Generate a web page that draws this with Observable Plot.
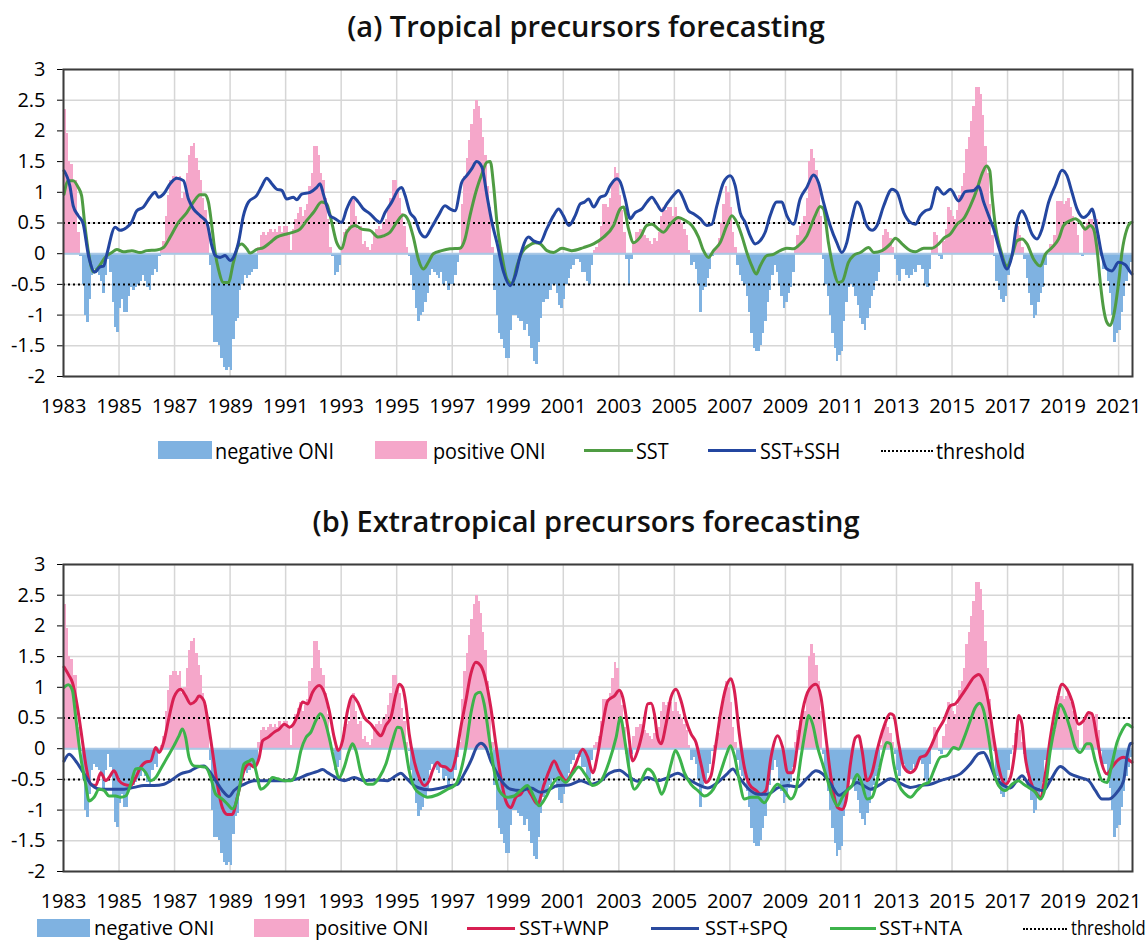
<!DOCTYPE html>
<html><head><meta charset="utf-8">
<script src="https://cdn.jsdelivr.net/npm/d3@7"></script>
<script src="https://cdn.jsdelivr.net/npm/@observablehq/plot@0.6"></script>
<style>
body{margin:0;background:#fff;font-family:"Open Sans",sans-serif;color:#000;}
#root{position:relative;width:1148px;height:942px;overflow:hidden;background:#fff;}
.title{position:absolute;left:0;width:1172px;text-align:center;font-weight:600;font-size:29px;line-height:34px;color:#111;}
.panel{position:absolute;left:0;}
.legend{position:absolute;left:0;width:1148px;height:22px;}
.lg{position:absolute;}
.lt{position:absolute;top:0;line-height:22px;white-space:nowrap;transform-origin:0 50%;}
</style></head>
<body><div id="root"></div>
<script>
// Monthly ONI, Jan 1983 - Jun 2021
const oniStart = 1983;
const oni = [
 2.35,1.95,1.5,1.45,1.2,1.2,0.35,-0.05,-0.5,-1.0,-1.12,-0.75,
 -0.35,-0.25,-0.3,-0.35,-0.45,-0.65,-0.35,-0.1,-0.3,-0.8,-1.2,-1.28,
 -0.9,-0.75,-0.95,-0.95,-0.7,-0.55,-0.6,-0.55,-0.5,-0.45,-0.35,-0.45,
 -0.55,-0.6,-0.35,-0.25,-0.3,-0.05,0.05,0.2,0.6,0.95,1.2,1.25,
 1.25,1.2,1.25,0.9,1.0,1.3,1.6,1.75,1.8,1.55,1.35,1.2,
 0.9,0.7,0.4,-0.2,-1.0,-1.45,-1.45,-1.5,-1.7,-1.85,-1.9,-1.85,
 -1.9,-1.4,-1.1,-1.05,-0.6,-0.5,-0.35,-0.4,-0.35,-0.3,-0.25,-0.25,
 0.1,0.3,0.35,0.3,0.35,0.4,0.35,0.4,0.35,0.45,0.35,0.45,
 0.45,0.35,0.05,0.4,0.55,0.65,0.75,0.6,0.7,0.8,1.1,1.3,
 1.75,1.75,1.6,1.3,1.2,0.9,0.55,0.1,-0.05,-0.35,-0.3,-0.2,
 0.05,0.35,0.4,0.45,0.85,0.9,0.6,0.4,0.45,0.15,0.2,0.1,
 0.05,0.15,0.3,0.4,0.45,0.4,0.5,0.55,0.7,0.9,1.2,1.2,
 1.05,0.9,0.65,0.45,0.1,-0.05,-0.35,-0.6,-0.9,-1.1,-1.0,-0.95,
 -0.8,-0.65,-0.35,-0.25,-0.3,-0.35,-0.4,-0.3,-0.5,-0.45,-0.6,-0.5,
 -0.5,-0.35,-0.15,0.1,0.8,1.25,1.55,1.85,2.1,2.35,2.5,2.4,
 2.2,1.9,1.6,1.1,0.75,0.1,-0.6,-1.0,-1.3,-1.4,-1.55,-1.7,
 -1.7,-1.25,-1.0,-1.0,-1.05,-1.1,-1.1,-1.25,-1.15,-1.35,-1.55,-1.75,
 -1.8,-1.45,-1.05,-0.8,-0.75,-0.75,-0.6,-0.5,-0.5,-0.65,-0.85,-0.9,
 -0.75,-0.5,-0.4,-0.25,-0.2,-0.1,-0.1,-0.15,-0.3,-0.3,-0.45,-0.5,
 -0.2,0.05,0.1,0.2,0.45,0.8,0.8,0.75,0.9,1.15,1.4,1.3,
 0.95,0.7,0.35,-0.1,-0.5,-0.1,0.2,0.35,0.35,0.4,0.35,0.3,
 0.25,0.2,0.15,0.25,0.2,0.35,0.6,0.75,0.7,0.75,0.75,0.6,
 0.75,0.6,0.55,0.5,0.4,0.3,0.05,-0.2,-0.15,-0.25,-0.5,-0.95,
 -0.6,-0.55,-0.4,-0.25,-0.05,0.05,0.1,0.25,0.5,0.8,1.1,1.0,
 0.75,0.35,0.1,-0.2,-0.35,-0.45,-0.5,-0.7,-0.95,-1.3,-1.55,-1.6,
 -1.6,-1.5,-1.3,-1.1,-0.8,-0.6,-0.35,-0.2,-0.3,-0.5,-0.7,-0.9,
 -0.8,-0.65,-0.55,-0.3,0.1,0.3,0.45,0.5,0.6,0.9,1.5,1.7,
 1.55,1.35,1.1,0.6,-0.1,-0.5,-0.7,-1.0,-1.3,-1.55,-1.75,-1.65,
 -1.6,-1.1,-0.8,-0.55,-0.5,-0.55,-0.7,-0.85,-1.05,-1.15,-1.25,-1.05,
 -0.9,-0.7,-0.6,-0.45,-0.3,0.05,0.3,0.4,0.35,0.25,0.1,-0.1,
 -0.35,-0.45,-0.25,-0.25,-0.35,-0.4,-0.35,-0.25,-0.3,-0.2,-0.2,-0.25,
 -0.5,-0.55,-0.25,0.1,0.35,0.3,-0.05,-0.1,0.2,0.4,0.75,0.7,
 0.6,0.55,0.7,0.95,1.1,1.3,1.7,1.9,2.15,2.4,2.7,2.7,
 2.6,2.25,1.75,1.3,0.8,0.3,-0.05,-0.45,-0.6,-0.75,-0.8,-0.7,
 -0.35,-0.1,0.05,0.25,0.45,0.3,0.1,-0.1,-0.4,-0.65,-0.85,-1.05,
 -1.0,-0.8,-0.65,-0.55,-0.2,0.0,0.15,0.15,0.3,0.85,0.85,0.85,
 0.8,0.85,0.9,0.75,0.6,0.5,0.3,0.0,-0.05,0.45,0.5,0.55,
 0.55,0.5,0.55,0.3,-0.05,-0.25,-0.25,-0.45,-0.65,-1.0,-1.45,-1.3,
 -1.25,-0.95,-0.7,-0.45,-0.3,-0.15
];

// Panel (a) forecasts: [year, value]
const sstA = [[1983.02,0.97],[1983.17,1.19],[1983.35,1.19],[1983.53,1.08],[1983.65,0.95],[1983.77,0.46],[1983.9,0.02],[1984.08,-0.3],[1984.26,-0.22],[1984.5,-0.06],[1984.74,0.02],[1984.92,0.07],[1985.16,0.03],[1985.46,0.05],[1985.76,0.02],[1986.0,0.05],[1986.36,0.06],[1986.6,0.1],[1986.84,0.27],[1987.14,0.51],[1987.44,0.67],[1987.68,0.84],[1987.92,0.96],[1988.1,0.96],[1988.22,0.84],[1988.34,0.46],[1988.46,0.02],[1988.58,-0.25],[1988.76,-0.47],[1988.94,-0.47],[1989.12,-0.14],[1989.3,0.13],[1989.42,0.16],[1989.6,0.08],[1989.72,0.01],[1989.96,0.07],[1990.2,0.1],[1990.44,0.18],[1990.68,0.27],[1991.04,0.32],[1991.28,0.35],[1991.52,0.4],[1991.76,0.54],[1992.0,0.67],[1992.3,0.84],[1992.48,0.81],[1992.66,0.51],[1992.84,0.18],[1993.02,0.08],[1993.2,0.35],[1993.5,0.46],[1993.74,0.4],[1994.04,0.38],[1994.34,0.27],[1994.52,0.29],[1994.76,0.35],[1995.0,0.51],[1995.24,0.63],[1995.42,0.54],[1995.6,0.27],[1995.78,-0.09],[1995.96,-0.25],[1996.14,-0.14],[1996.32,0.0],[1996.62,0.05],[1996.92,0.08],[1997.28,0.09],[1997.46,0.24],[1997.64,0.62],[1997.88,1.05],[1998.07,1.3],[1998.25,1.49],[1998.37,1.5],[1998.49,1.11],[1998.61,0.51],[1998.79,-0.03],[1998.97,-0.41],[1999.15,-0.49],[1999.33,-0.2],[1999.51,0.02],[1999.75,0.13],[1999.99,0.18],[2000.17,0.16],[2000.41,0.05],[2000.65,0.02],[2000.95,0.09],[2001.3,0.05],[2001.73,0.1],[2002.09,0.16],[2002.45,0.27],[2002.81,0.46],[2003.05,0.73],[2003.17,0.76],[2003.35,0.4],[2003.53,0.18],[2003.77,0.27],[2004.01,0.46],[2004.19,0.48],[2004.43,0.4],[2004.61,0.35],[2004.85,0.48],[2005.15,0.59],[2005.39,0.54],[2005.63,0.46],[2005.87,0.27],[2006.05,0.05],[2006.23,-0.06],[2006.41,0.05],[2006.65,0.18],[2006.89,0.46],[2007.07,0.62],[2007.25,0.51],[2007.43,0.29],[2007.61,0.02],[2007.79,-0.2],[2007.95,-0.33],[2008.09,-0.2],[2008.33,-0.03],[2008.57,-0.01],[2008.81,0.05],[2009.05,0.09],[2009.29,0.08],[2009.47,0.13],[2009.77,0.29],[2010.07,0.62],[2010.25,0.77],[2010.37,0.73],[2010.55,0.18],[2010.73,-0.25],[2010.91,-0.47],[2011.05,-0.45],[2011.27,-0.14],[2011.45,-0.03],[2011.7,0.02],[2012.0,0.1],[2012.18,0.02],[2012.48,0.05],[2012.78,0.16],[2012.96,0.25],[2013.2,0.16],[2013.5,0.05],[2013.68,0.03],[2013.98,0.09],[2014.28,0.09],[2014.52,0.16],[2014.7,0.25],[2014.94,0.32],[2015.18,0.48],[2015.42,0.57],[2015.66,0.78],[2015.9,1.05],[2016.08,1.3],[2016.24,1.43],[2016.36,1.35],[2016.44,0.95],[2016.56,0.46],[2016.74,0.08],[2016.98,-0.2],[2017.16,-0.03],[2017.34,0.21],[2017.52,0.24],[2017.7,0.16],[2017.94,-0.09],[2018.18,-0.2],[2018.36,-0.01],[2018.6,0.1],[2018.84,0.24],[2019.02,0.46],[2019.26,0.54],[2019.44,0.57],[2019.62,0.51],[2019.8,0.4],[2019.98,0.46],[2020.1,0.4],[2020.22,0.08],[2020.34,-0.47],[2020.46,-0.9],[2020.58,-1.12],[2020.7,-1.17],[2020.82,-1.01],[2021.0,-0.47],[2021.12,0.02],[2021.3,0.4],[2021.42,0.5],[2021.48,0.51]];

const sshA = [[1983.02,1.35],[1983.23,1.1],[1983.35,0.78],[1983.53,0.62],[1983.7,0.5],[1983.9,-0.03],[1984.13,-0.3],[1984.3,-0.22],[1984.45,-0.2],[1984.55,-0.03],[1984.86,0.43],[1985.04,0.38],[1985.28,0.43],[1985.45,0.51],[1985.64,0.7],[1985.88,0.76],[1986.12,0.92],[1986.3,1.0],[1986.42,0.92],[1986.6,0.97],[1986.84,1.14],[1987.08,1.23],[1987.32,1.19],[1987.5,0.89],[1987.68,0.73],[1987.92,0.62],[1988.16,0.51],[1988.34,0.13],[1988.46,-0.03],[1988.64,-0.06],[1988.82,-0.03],[1989.0,-0.11],[1989.12,-0.06],[1989.3,0.18],[1989.48,0.62],[1989.66,0.84],[1989.96,0.95],[1990.14,1.1],[1990.32,1.23],[1990.5,1.14],[1990.68,1.05],[1990.86,1.03],[1991.04,0.89],[1991.28,0.92],[1991.4,0.88],[1991.58,0.97],[1991.88,1.0],[1992.12,1.08],[1992.24,1.14],[1992.36,0.97],[1992.48,0.78],[1992.6,0.62],[1992.78,0.57],[1993.02,0.51],[1993.2,0.73],[1993.44,0.92],[1993.62,0.84],[1993.8,0.73],[1994.04,0.65],[1994.28,0.54],[1994.4,0.51],[1994.58,0.67],[1994.82,0.84],[1995.07,1.05],[1995.18,1.08],[1995.3,0.95],[1995.48,0.67],[1995.66,0.57],[1995.84,0.35],[1996.02,0.27],[1996.26,0.43],[1996.5,0.62],[1996.74,0.78],[1996.92,0.73],[1997.1,0.7],[1997.34,1.16],[1997.52,1.27],[1997.7,1.38],[1997.88,1.5],[1998.07,1.41],[1998.25,0.95],[1998.43,0.51],[1998.61,0.18],[1998.85,-0.3],[1999.09,-0.52],[1999.27,-0.36],[1999.45,-0.03],[1999.75,0.27],[1999.93,0.21],[2000.16,0.18],[2000.4,0.4],[2000.65,0.62],[2000.83,0.73],[2001.0,0.62],[2001.2,0.46],[2001.43,0.62],[2001.61,0.81],[2001.76,0.84],[2001.91,0.89],[2002.09,0.76],[2002.33,0.92],[2002.51,0.95],[2002.69,1.11],[2002.93,1.22],[2003.05,1.17],[2003.23,0.89],[2003.41,0.57],[2003.59,0.67],[2003.83,0.73],[2004.01,0.84],[2004.19,0.92],[2004.37,0.81],[2004.55,0.7],[2004.73,0.81],[2004.97,0.95],[2005.15,1.03],[2005.33,0.89],[2005.51,0.7],[2005.69,0.65],[2005.93,0.57],[2006.17,0.46],[2006.35,0.48],[2006.53,0.78],[2006.77,1.16],[2007.01,1.27],[2007.19,1.11],[2007.37,0.67],[2007.55,0.51],[2007.73,0.29],[2007.91,0.16],[2008.09,0.21],[2008.27,0.35],[2008.45,0.62],[2008.69,0.84],[2008.87,0.84],[2009.05,0.62],[2009.29,0.48],[2009.53,0.89],[2009.77,1.08],[2010.01,1.28],[2010.19,1.16],[2010.37,0.84],[2010.61,0.46],[2010.85,0.18],[2011.03,0.02],[2011.21,0.18],[2011.39,0.57],[2011.58,0.84],[2011.7,0.78],[2011.88,0.51],[2012.12,0.38],[2012.3,0.46],[2012.54,0.78],[2012.84,1.05],[2013.02,1.0],[2013.26,0.67],[2013.5,0.51],[2013.68,0.48],[2013.86,0.62],[2014.04,0.7],[2014.22,0.73],[2014.46,1.08],[2014.7,0.97],[2014.94,1.05],[2015.24,0.86],[2015.48,1.01],[2015.78,1.03],[2015.96,1.1],[2016.14,0.84],[2016.32,0.62],[2016.5,0.4],[2016.74,0.02],[2016.98,-0.25],[2017.16,-0.03],[2017.34,0.51],[2017.52,0.7],[2017.64,0.62],[2017.88,0.32],[2018.06,0.24],[2018.24,0.4],[2018.48,0.84],[2018.72,1.11],[2018.96,1.36],[2019.14,1.27],[2019.32,1.0],[2019.5,0.73],[2019.74,0.59],[2019.92,0.65],[2020.04,0.73],[2020.22,0.4],[2020.4,-0.03],[2020.58,-0.25],[2020.76,-0.28],[2021.0,-0.14],[2021.24,-0.18],[2021.42,-0.3],[2021.48,-0.33]];

// Panel (b) forecasts
const wnpB = [[1983.02,1.33],[1983.2,1.19],[1983.32,1.08],[1983.44,0.84],[1983.56,0.51],[1983.68,0.13],[1983.8,-0.25],[1983.98,-0.58],[1984.16,-0.6],[1984.34,-0.39],[1984.52,-0.52],[1984.64,-0.47],[1984.82,-0.36],[1985.0,-0.52],[1985.18,-0.58],[1985.42,-0.6],[1985.6,-0.47],[1985.78,-0.3],[1985.96,-0.22],[1986.14,-0.2],[1986.32,0.02],[1986.44,-0.06],[1986.62,0.13],[1986.8,0.51],[1986.98,0.84],[1987.22,0.97],[1987.4,0.86],[1987.58,0.73],[1987.76,0.78],[1987.88,0.86],[1988.06,0.78],[1988.18,0.51],[1988.36,-0.03],[1988.54,-0.58],[1988.72,-0.96],[1988.9,-1.07],[1989.08,-1.07],[1989.26,-0.79],[1989.5,-0.36],[1989.69,-0.25],[1989.87,-0.3],[1990.05,-0.14],[1990.17,0.13],[1990.35,0.18],[1990.59,0.27],[1990.77,0.32],[1990.95,0.4],[1991.15,0.35],[1991.25,0.38],[1991.43,0.54],[1991.61,0.76],[1991.79,0.73],[1991.97,0.92],[1992.21,1.03],[1992.39,0.92],[1992.57,0.62],[1992.75,0.18],[1992.9,-0.03],[1993.05,0.13],[1993.23,0.62],[1993.41,0.86],[1993.59,0.76],[1993.83,0.51],[1994.07,0.4],[1994.25,0.29],[1994.43,0.21],[1994.61,0.38],[1994.79,0.51],[1994.97,0.89],[1995.09,1.05],[1995.21,1.0],[1995.33,0.73],[1995.45,0.24],[1995.63,-0.2],[1995.81,-0.47],[1995.99,-0.6],[1996.17,-0.52],[1996.29,-0.36],[1996.47,-0.22],[1996.59,-0.28],[1996.77,-0.3],[1996.95,-0.36],[1997.13,-0.14],[1997.31,0.35],[1997.49,0.78],[1997.67,1.22],[1997.85,1.41],[1998.03,1.35],[1998.21,1.11],[1998.39,0.67],[1998.57,0.08],[1998.75,-0.47],[1998.93,-0.85],[1999.11,-0.96],[1999.29,-0.79],[1999.47,-0.74],[1999.65,-0.63],[1999.83,-0.74],[2000.07,-0.9],[2000.31,-0.58],[2000.49,-0.36],[2000.67,-0.2],[2000.85,-0.36],[2001.1,-0.52],[2001.4,-0.3],[2001.7,-0.01],[2001.88,-0.14],[2002.06,-0.39],[2002.24,-0.09],[2002.42,0.4],[2002.6,0.78],[2002.84,0.86],[2003.02,0.95],[2003.14,0.84],[2003.32,0.35],[2003.5,-0.2],[2003.68,-0.03],[2003.86,0.29],[2004.04,0.73],[2004.16,0.74],[2004.28,0.57],[2004.4,0.18],[2004.52,0.08],[2004.7,0.4],[2004.88,0.84],[2005.06,0.97],[2005.24,0.78],[2005.42,0.46],[2005.6,0.24],[2005.78,0.1],[2005.96,-0.25],[2006.14,-0.55],[2006.32,-0.44],[2006.5,0.08],[2006.68,0.62],[2006.86,1.0],[2007.04,1.14],[2007.16,0.95],[2007.34,0.24],[2007.52,-0.3],[2007.7,-0.58],[2007.94,-0.68],[2008.12,-0.74],[2008.3,-0.68],[2008.48,-0.14],[2008.72,0.21],[2008.9,0.02],[2009.08,-0.39],[2009.26,-0.39],[2009.44,0.08],[2009.62,0.62],[2009.86,0.97],[2010.1,1.05],[2010.28,0.84],[2010.46,0.18],[2010.64,-0.47],[2010.88,-0.96],[2011.04,-0.99],[2011.18,-0.85],[2011.34,-0.25],[2011.52,0.18],[2011.64,0.21],[2011.76,-0.03],[2011.94,-0.52],[2012.12,-0.39],[2012.3,-0.03],[2012.54,0.35],[2012.78,0.57],[2012.9,0.54],[2013.08,0.08],[2013.26,-0.3],[2013.5,-0.39],[2013.68,-0.33],[2013.86,-0.14],[2014.04,-0.11],[2014.22,0.02],[2014.46,0.27],[2014.7,0.46],[2014.94,0.7],[2015.12,0.73],[2015.3,0.84],[2015.54,1.0],[2015.78,1.16],[2015.96,1.21],[2016.14,1.08],[2016.32,0.73],[2016.5,0.18],[2016.68,-0.3],[2016.92,-0.58],[2017.1,-0.47],[2017.28,0.02],[2017.4,0.54],[2017.52,0.4],[2017.64,-0.14],[2017.82,-0.52],[2018.06,-0.74],[2018.18,-0.79],[2018.36,-0.41],[2018.54,0.18],[2018.78,0.78],[2018.96,1.05],[2019.14,0.97],[2019.32,0.78],[2019.56,0.4],[2019.74,0.46],[2019.92,0.59],[2020.04,0.57],[2020.22,0.18],[2020.4,-0.25],[2020.58,-0.41],[2020.76,-0.3],[2020.94,-0.2],[2021.18,-0.14],[2021.42,-0.2],[2021.48,-0.22]];

const spqB = [[1983.02,-0.2],[1983.2,-0.09],[1983.44,-0.2],[1983.74,-0.41],[1984.04,-0.6],[1984.34,-0.66],[1984.7,-0.66],[1985.18,-0.66],[1985.54,-0.63],[1985.9,-0.6],[1986.26,-0.6],[1986.62,-0.58],[1986.86,-0.52],[1987.22,-0.41],[1987.58,-0.36],[1987.82,-0.3],[1988.06,-0.28],[1988.24,-0.36],[1988.48,-0.52],[1988.72,-0.68],[1988.96,-0.78],[1989.14,-0.68],[1989.5,-0.58],[1989.87,-0.52],[1990.35,-0.52],[1990.95,-0.52],[1991.43,-0.49],[1991.79,-0.42],[1992.15,-0.37],[1992.33,-0.34],[1992.51,-0.39],[1992.81,-0.47],[1993.11,-0.52],[1993.47,-0.47],[1993.83,-0.52],[1994.19,-0.51],[1994.67,-0.52],[1994.97,-0.44],[1995.15,-0.4],[1995.33,-0.47],[1995.57,-0.58],[1995.81,-0.64],[1996.17,-0.67],[1996.59,-0.64],[1996.95,-0.6],[1997.19,-0.58],[1997.43,-0.41],[1997.67,-0.2],[1997.91,0.05],[1998.03,0.09],[1998.21,0.02],[1998.39,-0.2],[1998.63,-0.41],[1998.87,-0.58],[1999.11,-0.66],[1999.47,-0.68],[1999.83,-0.64],[2000.19,-0.71],[2000.43,-0.68],[2000.79,-0.6],[2001.2,-0.59],[2001.64,-0.52],[2002.0,-0.58],[2002.36,-0.52],[2002.66,-0.4],[2003.02,-0.35],[2003.32,-0.44],[2003.68,-0.53],[2004.04,-0.47],[2004.4,-0.52],[2004.76,-0.47],[2005.12,-0.4],[2005.48,-0.49],[2005.84,-0.58],[2006.2,-0.64],[2006.56,-0.55],[2006.92,-0.4],[2007.1,-0.33],[2007.34,-0.47],[2007.64,-0.64],[2008.0,-0.74],[2008.36,-0.74],[2008.72,-0.64],[2009.08,-0.6],[2009.44,-0.62],[2009.8,-0.47],[2010.1,-0.36],[2010.34,-0.41],[2010.64,-0.58],[2010.94,-0.76],[2011.1,-0.72],[2011.34,-0.63],[2011.58,-0.55],[2011.82,-0.6],[2012.06,-0.66],[2012.42,-0.58],[2012.78,-0.49],[2013.08,-0.55],[2013.5,-0.63],[2013.86,-0.6],[2014.22,-0.58],[2014.58,-0.52],[2014.94,-0.47],[2015.3,-0.41],[2015.66,-0.25],[2015.96,-0.08],[2016.14,-0.06],[2016.32,-0.2],[2016.56,-0.47],[2016.86,-0.6],[2017.1,-0.64],[2017.34,-0.52],[2017.52,-0.44],[2017.76,-0.58],[2018.06,-0.66],[2018.3,-0.68],[2018.54,-0.52],[2018.9,-0.29],[2019.26,-0.41],[2019.62,-0.47],[2019.92,-0.52],[2020.16,-0.68],[2020.4,-0.82],[2020.64,-0.82],[2020.94,-0.71],[2021.18,-0.52],[2021.3,-0.14],[2021.42,0.08],[2021.48,0.09]];

const ntaB = [[1983.02,1.0],[1983.17,1.04],[1983.32,0.95],[1983.44,0.51],[1983.62,-0.14],[1983.8,-0.58],[1983.92,-0.85],[1984.1,-0.79],[1984.28,-0.66],[1984.46,-0.68],[1984.64,-0.77],[1984.88,-0.77],[1985.06,-0.79],[1985.24,-0.77],[1985.42,-0.58],[1985.6,-0.33],[1985.78,-0.32],[1985.96,-0.39],[1986.14,-0.52],[1986.32,-0.47],[1986.5,-0.33],[1986.74,-0.14],[1986.98,0.05],[1987.16,0.21],[1987.28,0.32],[1987.4,0.18],[1987.52,-0.14],[1987.7,-0.28],[1987.94,-0.29],[1988.12,-0.3],[1988.3,-0.47],[1988.48,-0.74],[1988.72,-0.82],[1988.9,-0.9],[1989.08,-0.98],[1989.2,-0.9],[1989.32,-0.68],[1989.5,-0.25],[1989.69,-0.2],[1989.81,-0.17],[1989.93,-0.36],[1990.11,-0.66],[1990.35,-0.58],[1990.53,-0.47],[1990.71,-0.49],[1990.95,-0.52],[1991.19,-0.52],[1991.37,-0.41],[1991.55,-0.03],[1991.73,0.18],[1991.91,0.27],[1992.09,0.46],[1992.25,0.57],[1992.39,0.48],[1992.57,0.18],[1992.75,-0.2],[1992.93,-0.47],[1993.11,-0.3],[1993.29,-0.03],[1993.41,0.08],[1993.53,-0.03],[1993.71,-0.39],[1993.95,-0.58],[1994.13,-0.58],[1994.37,-0.47],[1994.61,-0.25],[1994.85,0.13],[1995.03,0.35],[1995.15,0.34],[1995.29,0.08],[1995.45,-0.36],[1995.63,-0.63],[1995.87,-0.74],[1996.11,-0.79],[1996.47,-0.75],[1996.83,-0.66],[1997.13,-0.58],[1997.31,-0.36],[1997.49,0.02],[1997.67,0.57],[1997.85,0.89],[1998.01,0.92],[1998.15,0.73],[1998.33,0.18],[1998.51,-0.36],[1998.69,-0.68],[1998.99,-0.79],[1999.23,-0.77],[1999.47,-0.68],[1999.71,-0.6],[1999.95,-0.79],[2000.13,-0.93],[2000.37,-0.79],[2000.61,-0.58],[2000.85,-0.47],[2001.09,-0.55],[2001.33,-0.41],[2001.55,-0.3],[2001.82,-0.44],[2002.06,-0.6],[2002.36,-0.52],[2002.66,-0.2],[2002.9,0.18],[2003.06,0.51],[2003.2,0.18],[2003.38,-0.36],[2003.56,-0.66],[2003.8,-0.52],[2004.04,-0.33],[2004.22,-0.39],[2004.4,-0.58],[2004.54,-0.74],[2004.7,-0.58],[2004.88,-0.25],[2005.04,-0.03],[2005.18,-0.14],[2005.36,-0.39],[2005.6,-0.58],[2005.84,-0.68],[2006.08,-0.77],[2006.32,-0.71],[2006.5,-0.58],[2006.68,-0.36],[2006.88,-0.09],[2007.02,0.05],[2007.16,-0.11],[2007.34,-0.52],[2007.52,-0.82],[2007.76,-0.79],[2008.0,-0.79],[2008.24,-0.88],[2008.48,-0.71],[2008.72,-0.58],[2008.96,-0.68],[2009.2,-0.82],[2009.38,-0.68],[2009.56,-0.14],[2009.74,0.35],[2009.83,0.54],[2009.98,0.4],[2010.16,0.02],[2010.34,-0.25],[2010.52,-0.52],[2010.7,-0.79],[2010.88,-0.93],[2011.04,-0.8],[2011.22,-0.68],[2011.4,-0.6],[2011.58,-0.42],[2011.72,-0.52],[2011.94,-0.82],[2012.12,-0.79],[2012.3,-0.52],[2012.48,-0.14],[2012.66,0.1],[2012.78,0.08],[2012.9,-0.25],[2013.08,-0.58],[2013.32,-0.74],[2013.5,-0.79],[2013.74,-0.68],[2013.98,-0.58],[2014.16,-0.55],[2014.34,-0.36],[2014.58,-0.14],[2014.82,-0.11],[2015.06,0.02],[2015.24,-0.01],[2015.42,0.16],[2015.66,0.46],[2015.84,0.67],[2016.0,0.74],[2016.14,0.62],[2016.32,0.18],[2016.5,-0.36],[2016.68,-0.6],[2016.92,-0.68],[2017.16,-0.58],[2017.4,-0.52],[2017.58,-0.58],[2017.76,-0.63],[2018.0,-0.71],[2018.18,-0.82],[2018.36,-0.63],[2018.54,-0.03],[2018.72,0.4],[2018.9,0.72],[2019.08,0.57],[2019.26,0.32],[2019.44,0.02],[2019.62,-0.06],[2019.86,0.08],[2019.98,0.08],[2020.16,-0.2],[2020.4,-0.52],[2020.58,-0.55],[2020.76,-0.25],[2020.94,0.1],[2021.12,0.29],[2021.3,0.4],[2021.48,0.35]];

const xTicks = d3.range(1983, 2022, 2);
const yTicks = [-2,-1.5,-1,-0.5,0,0.5,1,1.5,2,2.5,3];
const thresholds = [-0.5, 0.5];

const NEG = "#7fb2e1", POS = "#f5a7ca";
const bars = oni.map((v, i) => ({t0: oniStart + i/12, t1: oniStart + (i+1)/12 + 0.012, v}));

function panel(lines){
  return Plot.plot({
    width: 1148, height: 368,
    marginLeft: 63, marginRight: 16, marginTop: 19, marginBottom: 42,
    style: {fontFamily: "'Open Sans', sans-serif", fontSize: "20px", color: "#000", background: "transparent", overflow: "visible"},
    x: {domain: [1983, 2021.5], ticks: xTicks, tickFormat: d => String(d), tickSize: 0, tickPadding: 22, label: null},
    y: {domain: [-2, 3], ticks: yTicks, tickFormat: d => String(d), tickSize: 6, tickPadding: 12, label: null},
    marks: [
      Plot.ruleX(xTicks, {stroke: "#d6d6d6", strokeWidth: 1.5}),
      Plot.ruleY(yTicks, {stroke: "#d6d6d6", strokeWidth: 1.5}),
      Plot.rect(bars.filter(d => d.v < 0), {x1: "t0", x2: "t1", y1: d => 0, y2: "v", fill: NEG, shapeRendering: "crispEdges"}),
      Plot.rect(bars.filter(d => d.v > 0), {x1: "t0", x2: "t1", y1: d => 0, y2: "v", fill: POS, shapeRendering: "crispEdges"}),
      Plot.ruleY([0], {stroke: "#a9c8e6", strokeWidth: 2}),
      Plot.ruleY(thresholds, {stroke: "#000", strokeWidth: 2, strokeDasharray: "2 3"}),
      ...lines.map(l => Plot.line(l.data, {x: d => d[0], y: d => d[1], stroke: l.color, strokeWidth: 3, curve: "monotone-x"})),
      Plot.frame({stroke: "#3c3c3c", strokeWidth: 2})
    ]
  });
}

const root = document.getElementById("root");
function add(el, css){ Object.assign(el.style, css); root.appendChild(el); return el; }
function title(text, top){ const d = document.createElement("div"); d.className = "title"; d.textContent = text; add(d, {top: top + "px"}); }
function legend(top, fontSize, items){
  const L = document.createElement("div"); L.className = "legend"; L.style.top = top + "px"; L.style.fontSize = fontSize + "px"; root.appendChild(L);
  for (const it of items){
    const s = document.createElement("div"); s.className = "lg";
    if (it.kind === "rect") Object.assign(s.style, {left: it.x+"px", width: it.w+"px", top: "2px", height: "18px", background: it.color});
    else if (it.kind === "line") Object.assign(s.style, {left: it.x+"px", width: it.w+"px", top: "10px", height: "3px", background: it.color});
    else Object.assign(s.style, {left: it.x+"px", width: it.w+"px", top: "11px", height: "0px", borderTop: "2px dotted #000"});
    L.appendChild(s);
    const t = document.createElement("div"); t.className = "lt"; t.textContent = it.label;
    t.style.left = it.tx + "px"; t.style.transform = `scaleX(${it.sx || 1})`;
    L.appendChild(t);
  }
}

title("(a) Tropical precursors forecasting", 9);
const pa = panel([{data: sstA, color: "#4f9c43"}, {data: sshA, color: "#2346a0"}]);
pa.classList.add("panel"); add(pa, {top: "50px"});
legend(439, 22, [
  {kind:"rect", color: NEG, x:158, w:54, tx:215, label:"negative ONI", sx:0.9},
  {kind:"rect", color: POS, x:375, w:52, tx:433, label:"positive ONI", sx:0.9},
  {kind:"line", color:"#4f9c43", x:584, w:49, tx:636, label:"SST", sx:0.9},
  {kind:"line", color:"#2346a0", x:708, w:48, tx:760, label:"SST+SSH", sx:0.9},
  {kind:"dot", x:881, w:52, tx:936, label:"threshold", sx:0.9}
]);

title("(b) Extratropical precursors forecasting", 504);
const pb = panel([{data: wnpB, color: "#d81f52"}, {data: spqB, color: "#2a4a9e"}, {data: ntaB, color: "#3db34b"}]);
pb.classList.add("panel"); add(pb, {top: "545px"});
legend(917, 20, [
  {kind:"rect", color: NEG, x:37, w:53, tx:94, label:"negative ONI"},
  {kind:"rect", color: POS, x:254, w:55, tx:315, label:"positive ONI"},
  {kind:"line", color:"#d81f52", x:467, w:48, tx:519, label:"SST+WNP"},
  {kind:"line", color:"#2a4a9e", x:651, w:48, tx:705, label:"SST+SPQ"},
  {kind:"line", color:"#3db34b", x:830, w:46, tx:879, label:"SST+NTA"},
  {kind:"dot", x:1023, w:44, tx:1071, label:"threshold", sx:0.83}
]);
</script>
</body></html>
